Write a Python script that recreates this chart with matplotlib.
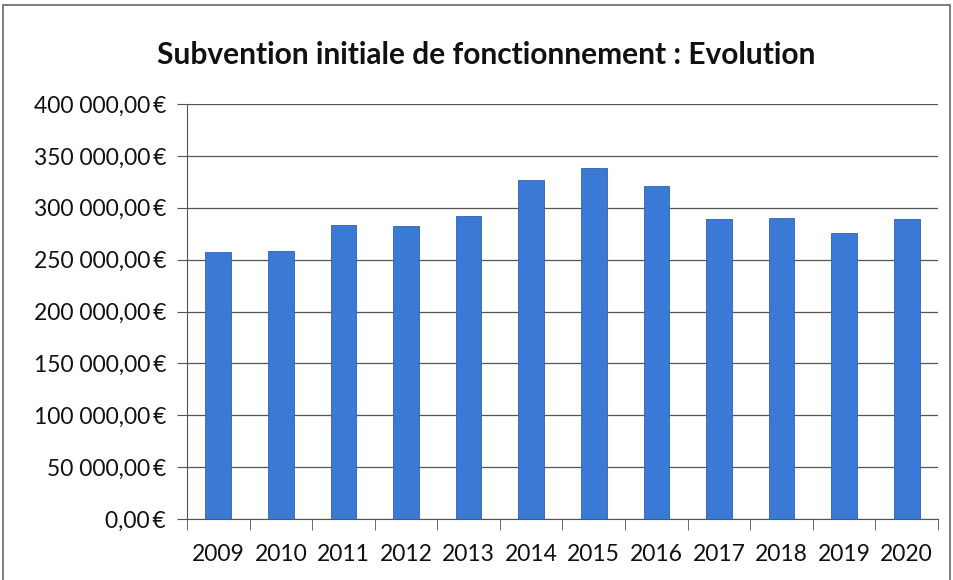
import matplotlib
matplotlib.use("Agg")
import matplotlib.pyplot as plt
from matplotlib.patches import Rectangle
import numpy as np

years = ["2009", "2010", "2011", "2012", "2013", "2014", "2015", "2016", "2017", "2018", "2019", "2020"]
values = [257300, 258700, 283400, 282100, 291600, 326300, 338600, 321200, 289400, 290600, 275500, 289400]
yticks = [0, 50000, 100000, 150000, 200000, 250000, 300000, 350000, 400000]

def fmt(v):
    s = f"{v:,.2f}".replace(",", " ").replace(".", ",")
    return s + "\u2009€"

plt.rcParams['font.family'] = ['Lato', 'DejaVu Sans']

fig = plt.figure(figsize=(9.54, 5.8), dpi=100)
ax = fig.add_axes([187/954, 1-519/580, (938-187)/954, (519-104)/580])

x = np.arange(len(years))
ax.bar(x, values, width=0.41, color="#3a79d6", edgecolor="#2f62b0", linewidth=0.6, zorder=3)
ax.set_xlim(-0.5, len(years)-0.5)
ax.set_ylim(0, 400000)
ax.set_yticks(yticks)
ax.set_yticklabels([fmt(v) for v in yticks], fontsize=16.5, color="#111111")
ax.yaxis.grid(True, color="#555555", linewidth=0.9, zorder=0)
ax.set_xticks(x)
ax.set_xticklabels(years, fontsize=16.5, color="#111111")
ax.tick_params(axis='x', length=0, pad=18)
ax.set_xticks(np.arange(-0.5, len(years)), minor=True)
ax.tick_params(axis='x', which='minor', length=8, color="#555555", direction='out')
ax.tick_params(axis='y', length=7, color="#555555", pad=8)
for s in ["top", "right"]:
    ax.spines[s].set_visible(False)
ax.spines["left"].set_color("#555555")
ax.spines["bottom"].set_color("#555555")

fig.text(486/954, 1-55/580, "Subvention initiale de fonctionnement : Evolution",
         ha="center", va="center", fontsize=21.5, fontweight="bold", color="#111111")

fig.patches.append(Rectangle((3/954, -0.1), (950-3)/954, 1.1-5/580, transform=fig.transFigure,
                             fill=False, edgecolor="#666666", linewidth=1.2))

fig.savefig("out.png", dpi=100)
